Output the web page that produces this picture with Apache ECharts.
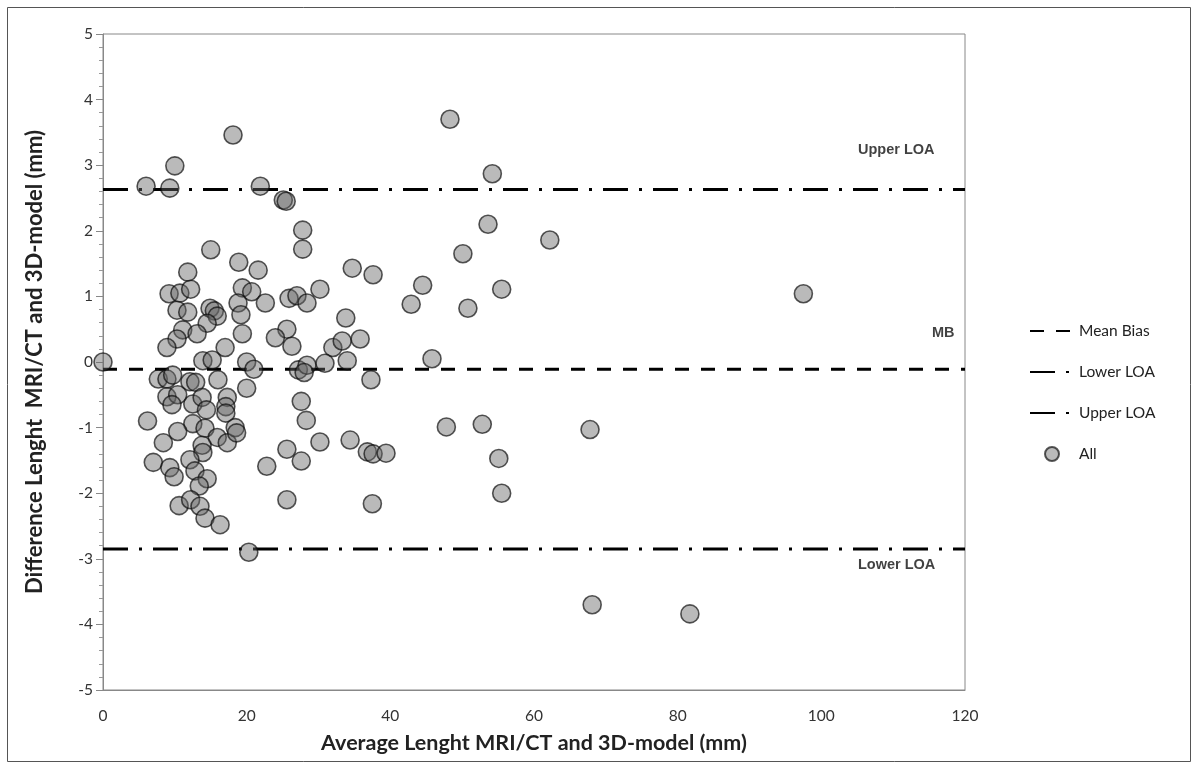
<!DOCTYPE html>
<html>
<head>
<meta charset="utf-8">
<script src="https://cdn.jsdelivr.net/npm/echarts@6/dist/echarts.min.js"></script>
<style>
html,body{margin:0;padding:0;background:#fff;}
#chart{width:1200px;height:769px;}
</style>
</head>
<body>
<div id="chart"></div>
<script>
// ---- data ----
const xTicks = [0, 20, 40, 60, 80, 100, 120];
const yTicks = [-5, -4, -3, -2, -1, 0, 1, 2, 3, 4, 5];
const meanBias = -0.11;
const upperLOA = 2.63;
const lowerLOA = -2.85;
const legendNames = ['Mean Bias', 'Lower LOA', 'Upper LOA', 'All'];
const avgLength = [
  0, 6.0, 9.3, 10.0, 18.1, 21.9, 25.1, 25.5, 27.8, 27.8, 15.0, 18.9, 21.6, 11.8, 9.2, 10.7, 12.2, 19.4, 20.7, 18.8,
  19.2, 22.6, 10.3, 11.8, 14.9, 15.5, 15.9, 14.5, 11.1, 13.1, 10.3, 19.4, 8.9, 17.0, 13.9, 15.2, 20.0, 21.0, 7.7, 8.9,
  9.7, 12.1, 12.9, 16.0, 20.0, 8.9, 10.4, 9.6, 12.5, 13.8, 14.4, 17.3, 17.1, 17.1, 6.2, 12.5, 10.4, 14.2, 15.9, 17.3,
  18.4, 18.6, 8.4, 13.8, 13.9, 12.1, 7.0, 9.3, 9.9, 12.8, 14.5, 13.4, 10.6, 12.2, 13.5, 14.2, 16.3, 20.3,
  25.9, 27.0, 28.4, 30.2, 25.6, 24.0, 26.3, 33.8, 34.7, 37.6, 32.0, 33.3, 35.8, 27.2, 28.4, 28.0, 30.9, 34.0, 37.3,
  27.6, 28.3, 30.2, 34.4, 25.6, 36.8, 37.6, 39.4, 27.6, 22.8, 25.6, 37.5,
  48.3, 54.2, 53.6, 62.2, 50.1, 44.5, 55.5, 42.9, 50.8, 45.8, 47.8, 52.8, 67.8, 55.1, 55.5, 68.1, 81.7, 97.5
];
const diffLength = [
  0, 2.68, 2.65, 2.99, 3.46, 2.68, 2.47, 2.45, 2.01, 1.72, 1.71, 1.52, 1.40, 1.37, 1.04, 1.05, 1.11, 1.13, 1.07, 0.90,
  0.72, 0.90, 0.79, 0.76, 0.82, 0.78, 0.70, 0.59, 0.49, 0.43, 0.35, 0.43, 0.22, 0.22, 0.02, 0.03, 0.0, -0.11, -0.26, -0.26,
  -0.20, -0.30, -0.31, -0.27, -0.40, -0.53, -0.50, -0.65, -0.64, -0.54, -0.73, -0.54, -0.68, -0.78, -0.90, -0.94, -1.06, -1.01, -1.15, -1.23,
  -1.00, -1.08, -1.23, -1.27, -1.38, -1.49, -1.53, -1.61, -1.75, -1.66, -1.78, -1.89, -2.19, -2.10, -2.20, -2.38, -2.48, -2.90,
  0.97, 1.01, 0.90, 1.11, 0.50, 0.37, 0.24, 0.67, 1.43, 1.33, 0.22, 0.32, 0.35, -0.12, -0.05, -0.16, -0.02, 0.02, -0.27,
  -0.60, -0.89, -1.22, -1.19, -1.33, -1.37, -1.40, -1.39, -1.51, -1.59, -2.10, -2.16,
  3.70, 2.87, 2.10, 1.86, 1.65, 1.17, 1.11, 0.88, 0.82, 0.05, -0.99, -0.95, -1.03, -1.47, -2.00, -3.70, -3.84, 1.04
];
const annotationText = ['Upper LOA', 'MB', 'Lower LOA'];
const annotationX = [105.1, 115.4, 105.1];
const annotationY = [3.23, 0.44, -3.09];

// ---- build ----
const points = avgLength.map((x, i) => [x, diffLength[i]]);
const hline = v => [[xTicks[0], v], [xTicks[xTicks.length - 1], v]];
const annotations = annotationText.map((t, i) => ({ name: t, value: [annotationX[i], annotationY[i]] }));
const FONT = 'Lato, "Open Sans", sans-serif';
const dashDot = [25, 11, 3, 11];

const legendData = legendNames.map(n => n === 'All'
  ? { name: n }
  : { name: n, itemStyle: { opacity: 0 } });

const chart = echarts.init(document.getElementById('chart'), null, { renderer: 'canvas' });
chart.setOption({
  animation: false,
  backgroundColor: '#fff',
  textStyle: { fontFamily: FONT },
  graphic: [{
    type: 'rect', shape: { x: 7.5, y: 7.5, width: 1183, height: 754 },
    style: { fill: 'none', stroke: '#555', lineWidth: 1 }, silent: true
  }],
  grid: { left: 103, right: 235, top: 34, bottom: 79, show: true, borderColor: '#888', borderWidth: 1, backgroundColor: 'transparent' },
  xAxis: {
    type: 'value', min: xTicks[0], max: xTicks[xTicks.length - 1], interval: 20,
    name: 'Average Lenght MRI/CT and 3D-model (mm)', nameLocation: 'middle', nameGap: 42,
    nameTextStyle: { fontFamily: FONT, fontSize: 21.5, fontWeight: 'bold', color: '#222' },
    axisLine: { show: true, onZero: false, lineStyle: { color: '#888', width: 1 } },
    axisTick: { show: false },
    splitLine: { show: false },
    axisLabel: { fontFamily: FONT, fontSize: 15.5, color: '#333', margin: 18 }
  },
  yAxis: {
    type: 'value', min: yTicks[0], max: yTicks[yTicks.length - 1], interval: 1,
    name: 'Difference Lenght  MRI/CT and 3D-model (mm)', nameLocation: 'middle', nameGap: 57,
    nameTextStyle: { fontFamily: FONT, fontSize: 22, fontWeight: 'bold', color: '#222' },
    axisLine: { show: true, onZero: false, lineStyle: { color: '#888', width: 1 } },
    axisTick: { show: true, length: 7, lineStyle: { color: '#888' } },
    minorTick: { show: true, splitNumber: 5, length: 4, lineStyle: { color: '#999' } },
    splitLine: { show: false },
    axisLabel: { fontFamily: FONT, fontSize: 15.5, color: '#333', margin: 10 }
  },
  legend: {
    data: legendData,
    orient: 'vertical', left: 1024, top: 318,
    itemWidth: 44, itemHeight: 14, itemGap: 25,
    textStyle: { fontFamily: FONT, fontSize: 15.5, color: '#222' }
  },
  series: [
    {
      name: 'Mean Bias', type: 'line', data: hline(meanBias), showSymbol: false, symbol: 'none', z: 3,
      lineStyle: { color: '#000', width: 3, type: [14, 12] }, itemStyle: { color: '#000' }
    },
    {
      name: 'Lower LOA', type: 'line', data: hline(lowerLOA), showSymbol: false, symbol: 'none', z: 3,
      lineStyle: { color: '#000', width: 3, type: dashDot }, itemStyle: { color: '#000' }
    },
    {
      name: 'Upper LOA', type: 'line', data: hline(upperLOA), showSymbol: false, symbol: 'none', z: 3,
      lineStyle: { color: '#000', width: 3, type: dashDot }, itemStyle: { color: '#000' }
    },
    {
      name: 'All', type: 'scatter', data: points, symbol: 'circle', symbolSize: 18, z: 4,
      itemStyle: { color: 'rgba(100,100,100,0.56)', borderColor: 'rgba(10,10,10,0.85)', borderWidth: 1.6 }
    },
    {
      name: 'annot', type: 'scatter', data: annotations, symbolSize: 0, silent: true, z: 5,
      label: {
        show: true, position: 'right', distance: 0, formatter: p => p.name,
        fontFamily: 'Liberation Sans, Arial, sans-serif', fontSize: 14.5, fontWeight: 'bold', color: '#111'
      }
    }
  ]
});
</script>
</body>
</html>
